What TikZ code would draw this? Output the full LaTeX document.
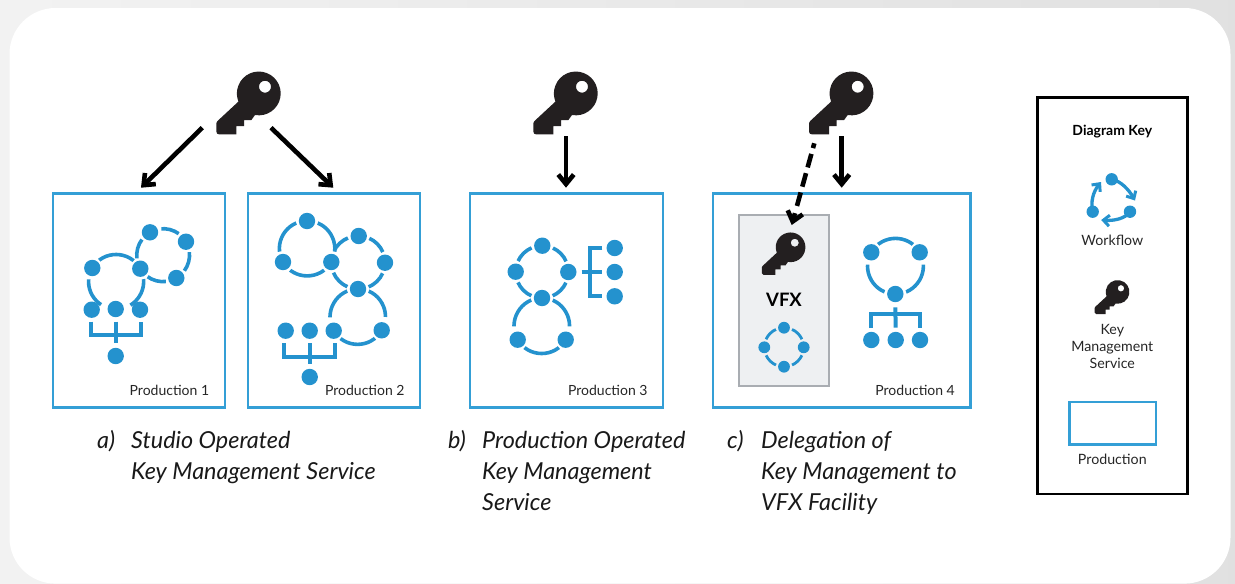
\documentclass[tikz,border=0pt]{standalone}
\usepackage{fontspec}
\setmainfont{Lato}
\usetikzlibrary{arrows.meta,calc}
\definecolor{wfblue}{HTML}{2492CE}
\definecolor{boxblue}{HTML}{349FD6}
\definecolor{keyblack}{HTML}{231F20}
\definecolor{vfxfill}{HTML}{EEF0F2}
\definecolor{vfxline}{HTML}{A9ADB2}
\tikzset{
  x=1pt,y=-1pt,
  dot/.style={circle,fill=wfblue,inner sep=0pt,minimum size=16.4pt,draw=none},
  smalldot/.style={circle,fill=wfblue,inner sep=0pt,minimum size=11.8pt,draw=none},
  keydot/.style={circle,fill=wfblue,inner sep=0pt,minimum size=12.4pt,draw=none},
  link/.style={draw=wfblue,line width=3.6pt},
  tree/.style={draw=wfblue,line width=4pt},
  prod/.style={draw=boxblue,line width=2.4pt,fill=white},
  prodlabel/.style={anchor=base east,inner sep=0pt,font=\fontsize{14}{16}\selectfont,text=black!85},
  capt/.style={anchor=base west,font=\fontsize{23.4}{26}\itshape\selectfont,text=black!90,inner sep=0pt},
  keytext/.style={anchor=base,font=\fontsize{14.2}{17}\selectfont,align=center,text=black!85,inner sep=0pt},
  fat/.style={draw=black,line width=4.6pt,-{Straight Barb[length=9.5pt,width=15.5pt,line width=4.6pt]}},
  fatdash/.style={draw=black,line width=4.6pt,dash pattern=on 14pt off 6pt,dash phase=9pt},
  wfarrow/.style={draw=wfblue,line width=3.3pt,-{Straight Barb[length=6pt,width=11pt,line width=3pt]}},
}
% arc from node to node: #2,#3 nodes, #4 left/right, #5 half of the central angle, #6,#7 distance kept from each centre
\newcommand{\wlink}[7][]{%
  \pgfpointanchor{#2}{center}\pgfgetlastxy{\wax}{\way}%
  \pgfpointanchor{#3}{center}\pgfgetlastxy{\wbx}{\wby}%
  \pgfmathsetmacro\wdist{veclen(\wbx-\wax,\wby-\way)}%
  \pgfmathsetmacro\wrad{\wdist/(2*sin(#5))}%
  \pgfmathsetmacro\won{\wrad*2*#5*pi/180-#6-#7}%
  \pgfmathsetmacro\wloose{(4/3*tan(#5/2))/(0.3915*2*sin(#5))}%
  \draw[link,#1,dash pattern=on 0pt off #6pt on \won pt off 500pt]
    (#2.center) to[bend #4=#5,looseness=\wloose] (#3.center);}
\newcommand{\keyicon}[3]{%
  \begin{scope}[shift={(#1,#2)},scale=#3]
    \fill[keyblack,even odd rule]
      (-20.7,8.7) -- (-41.5,28) -- (-42.6,30) -- (-42.6,38.7) .. controls (-42.6,40.5) and (-41.5,41.3) .. (-40,41.3)
      -- (-22.6,41.3) -- (-22.6,33) -- (-15,33) -- (-15,27) -- (-7.6,27) -- (-4,22)
      arc[start angle=100,end angle=-200,radius=21.9] -- cycle
      (12,-6.3) arc[start angle=0,end angle=360,radius=6];
  \end{scope}}
\begin{document}
\begin{tikzpicture}
\useasboundingbox (0,0) rectangle (1235,584);
\shade[left color=black!5,right color=black!12] (0,0) rectangle (1235,584);
\begin{scope}
\clip (0,0) rectangle (1235,584);
\fill[white,rounded corners=46pt] (9.5,8) rectangle (1230.5,583.6);
\end{scope}

% keys
\keyicon{259}{93}{1}
\keyicon{576}{93}{1}
\keyicon{851.7}{93}{1}

% production boxes
\draw[prod] (52.7,193.3) rectangle (224.7,407.3);
\draw[prod] (247.7,193.3) rectangle (419.7,407.3);
\draw[prod] (469.7,193.3) rectangle (663,407.3);
\draw[prod] (713,193.3) rectangle (970.3,407.3);
\draw[draw=vfxline,fill=vfxfill,line width=2.2pt] (738.7,215) rectangle (829.3,385.7);
\keyicon{790.7}{247}{0.677}
\node[anchor=base,font=\fontsize{18.5}{20}\bfseries\selectfont,inner sep=0pt] (vfx) at (784,306.7) {VFX};

\node[prodlabel] (p1) at (209.3,395) {Production 1};
\node[prodlabel] (p2) at (404.7,395) {Production 2};
\node[prodlabel] (p3) at (647.7,395) {Production 3};
\node[prodlabel] (p4) at (955,395) {Production 4};

% arrows
\coordinate (k1l) at (202.3,127.7); \coordinate (t1) at (141,187.7);
\coordinate (k1r) at (271,127.7);   \coordinate (t2) at (333.3,187.7);
\coordinate (k2) at (566,136);      \coordinate (t3) at (566,187.7);
\coordinate (k3) at (841.7,136);    \coordinate (t4) at (841.7,187.7);
\coordinate (k3d) at (814.3,143.3); \coordinate (t5) at (791.7,225);
\draw[fat] (k1l) -- (t1);
\draw[fat] (k1r) -- (t2);
\draw[fat] (k2) -- (t3);
\draw[fat] (k3) -- (t4);
\coordinate (d5e) at ($(k3d)!0.8!(t5)$);
\coordinate (d5t) at ($(k3d)!0.855!(t5)$);
\draw[fatdash] (k3d) -- (d5e);
\draw[fat] (d5t) -- (t5);

% production 1
\node[dot] (a1) at (92.3,268) {};
\node[dot] (b1) at (140.3,268.7) {};
\node[dot] (c1) at (150,232.3) {};
\node[dot] (d1) at (186,241.7) {};
\node[dot] (e1) at (176.3,278) {};
\node[dot] (f1) at (91.7,309.7) {};
\node[dot] (g1) at (115.7,309) {};
\node[dot] (h1) at (140,309.7) {};
\node[dot] (i1) at (115.7,356) {};
\wlink{a1}{b1}{left}{60}{10.5}{10.5}
\wlink{a1}{g1}{right}{60}{12}{15.5}
\wlink{b1}{g1}{left}{60}{11}{15.5}
\wlink{b1}{c1}{left}{45}{11}{11}
\wlink{c1}{d1}{left}{45}{12}{11}
\wlink{d1}{e1}{left}{45}{11}{11}
\wlink{e1}{b1}{left}{45}{11}{11}
\coordinate (br1) at (115.7,321.7);
\draw[tree] (91.2,321.7) |- (141,335) -- (141,321.7);
\draw[tree] (br1) -- ($(i1.north)+(0,-5)$);

% production 2
\node[dot] (a2) at (307,221) {};
\node[dot] (b2) at (283,262) {};
\node[dot] (c2) at (331.3,262) {};
\node[dot] (d2) at (358.7,236) {};
\node[dot] (e2) at (385,262.7) {};
\node[dot] (f2) at (358,289) {};
\node[dot] (g2) at (333.7,330.7) {};
\node[dot] (h2) at (381.7,330.3) {};
\node[dot] (i2) at (285.7,330.7) {};
\node[dot] (j2) at (309.7,330.7) {};
\node[dot] (k2d) at (309.7,377) {};
\wlink{a2}{b2}{right}{60}{11}{11}
\wlink{a2}{c2}{left}{60}{11}{11}
\wlink{b2}{c2}{right}{60}{11}{11}
\wlink{c2}{d2}{left}{45}{13}{11}
\wlink{d2}{e2}{left}{45}{11}{11}
\wlink{e2}{f2}{left}{45}{11}{11}
\wlink{c2}{f2}{right}{45}{11}{11}
\wlink{f2}{g2}{right}{60}{11}{14}
\wlink{f2}{h2}{left}{60}{11}{14}
\wlink{g2}{h2}{right}{60}{10.5}{10.5}
\draw[tree] (284.3,343.3) |- (335,356.7) -- (335,343.3);
\coordinate (br2) at (309.7,343.3);
\draw[tree] (br2) -- ($(k2d.north)+(0,-5)$);

% production 3
\node[dot] (a3) at (542.3,245.7) {};
\node[dot] (b3) at (515.7,271.7) {};
\node[dot] (c3) at (568.3,272) {};
\node[dot] (d3) at (542,298) {};
\node[dot] (e3) at (517.7,339.7) {};
\node[dot] (f3) at (565.7,339.7) {};
\node[dot] (t13) at (614.7,248) {};
\node[dot] (t23) at (614.7,272) {};
\node[dot] (t33) at (614.7,296.3) {};
\wlink{a3}{b3}{right}{45}{11}{11}
\wlink{a3}{c3}{left}{45}{11}{11}
\wlink{b3}{d3}{right}{45}{11}{11}
\wlink{c3}{d3}{left}{45}{11}{11}
\wlink{d3}{e3}{right}{60}{11}{14}
\wlink{d3}{f3}{left}{60}{11}{14}
\wlink{e3}{f3}{right}{60}{10.5}{10.5}
\draw[tree] (t13.west) ++(-4,0) -| (590,296.3) -- ($(t33.west)+(-4,0)$);
\draw[tree] (581.7,272) -- ($(t23.west)+(-4,0)$);

% production 4
\node[dot] (a4) at (871.3,252.3) {};
\node[dot] (b4) at (919.7,252.3) {};
\node[dot] (c4) at (895.3,294) {};
\node[dot] (d4) at (871.3,340) {};
\node[dot] (e4) at (895.7,340) {};
\node[dot] (f4) at (920,340) {};
\wlink{a4}{b4}{left}{60}{10.5}{10.5}
\wlink{a4}{c4}{right}{60}{13}{11}
\wlink{b4}{c4}{left}{60}{13}{11}
\draw[tree] (871.3,328) |- (920,314) -- (920,328);
\draw[tree] ($(c4.south)+(0,5)$) -- ($(e4.north)+(0,-4)$);

% vfx ring
\node[smalldot] (a5) at (784,327.7) {};
\node[smalldot] (b5) at (764.3,347.3) {};
\node[smalldot] (c5) at (803.7,347.3) {};
\node[smalldot] (d5) at (784,366.7) {};
\wlink[line width=2.8pt]{a5}{b5}{right}{45}{8.3}{8.3}
\wlink[line width=2.8pt]{b5}{d5}{right}{45}{8.3}{8.3}
\wlink[line width=2.8pt]{d5}{c5}{right}{45}{8.3}{8.3}
\wlink[line width=2.8pt]{c5}{a5}{right}{45}{8.3}{8.3}

% captions
\node[capt] (ca) at (97,448) {a)};
\node[capt] (ca1) at (131,448) {Studio Operated};
\node[capt] (ca2) at (131,479) {Key Management Service};
\node[capt] (cb) at (448,448) {b)};
\node[capt] (cb1) at (482,448) {Production Operated};
\node[capt] (cb2) at (482,479) {Key Management};
\node[capt] (cb3) at (482,510) {Service};
\node[capt] (cc) at (727,448) {c)};
\node[capt] (cc1) at (761,448) {Delegation of};
\node[capt] (cc2) at (761,479) {Key Management to};
\node[capt] (cc3) at (761,510) {VFX Facility};

% legend
\draw[black,line width=2.6pt,fill=white] (1037.3,97.3) rectangle (1187.7,494);
\node[keytext,font=\fontsize{14}{17}\bfseries\selectfont,text=black] (lt) at (1112.3,135.7) {Diagram Key};
\node[keydot] (w1) at (1111.7,179.3) {};
\node[keydot] (w2) at (1130,211.7) {};
\node[keydot] (w3) at (1092.7,211.7) {};
\coordinate (wt1) at (1135,200.5);
\coordinate (wt2) at (1101.2,220);
\coordinate (wt3) at (1101,182);
\draw[wfarrow] (w1.center) .. controls (1121,181) and (1129,190) .. (wt1);
\draw[wfarrow] (w2.center) .. controls (1125,219) and (1113,221) .. (wt2);
\draw[wfarrow] (w3.center) .. controls (1090.5,202) and (1093,192) .. (wt3);
\node[keytext] (lw) at (1112.3,245) {Workflow};
\keyicon{1117.7}{291.7}{0.54}
\node[keytext] (lk1) at (1112.3,334) {Key};
\node[keytext] (lk2) at (1112.3,351) {Management};
\node[keytext] (lk3) at (1112.3,368) {Service};
\draw[prod] (1069.3,401.7) rectangle (1155.7,444.3);
\node[keytext] (lp) at (1112.3,464.3) {Production};
\end{tikzpicture}
\end{document}
